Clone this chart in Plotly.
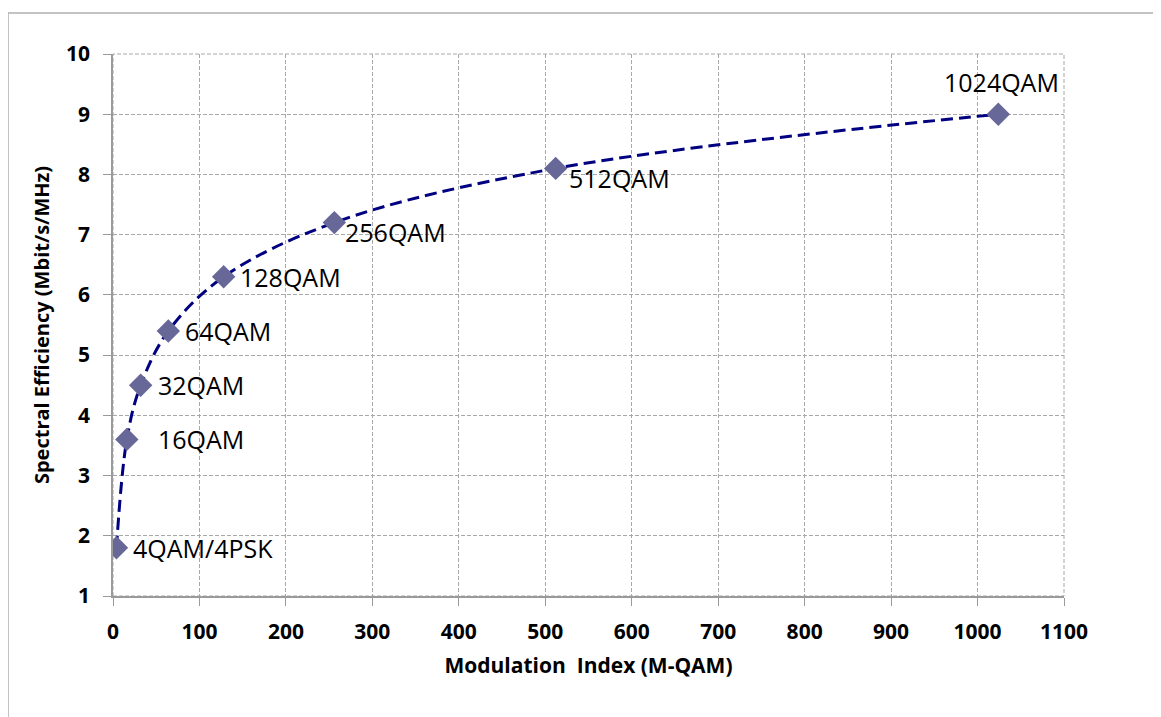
import plotly.graph_objects as go

mod_index = [4, 16, 32, 64, 128, 256, 512, 1024]
spectral_eff = [1.8, 3.6, 4.5, 5.4, 6.3, 7.2, 8.1, 9.0]
labels = ["4QAM/4PSK", "16QAM", "32QAM", "64QAM", "128QAM", "256QAM", "512QAM", "1024QAM"]

# label placement style (pixel offsets)
label_xanchor = ["left", "left", "left", "left", "left", "left", "left", "center"]
label_xshift = [15, 29, 15, 15, 14, 9, 11, 3]
label_yshift = [0, 0, 0, 0, 0, -9, -10, 32]

x_ticks = list(range(0, 1101, 100))
y_ticks = list(range(1, 11))

FONT = "Open Sans, Liberation Sans, sans-serif"

fig = go.Figure()
fig.add_trace(go.Scatter(
    x=mod_index, y=spectral_eff, mode="lines",
    line=dict(color="#000080", width=3, dash="12px,6px", shape="spline", smoothing=1.0),
    hoverinfo="skip", showlegend=False))
fig.add_trace(go.Scatter(
    x=mod_index, y=spectral_eff, mode="markers",
    marker=dict(symbol="diamond", size=18, color="#676798"),
    showlegend=False))

for xv, yv, t, xa, xs, ys in zip(mod_index, spectral_eff, labels, label_xanchor, label_xshift, label_yshift):
    fig.add_annotation(x=xv, y=yv, text=t, showarrow=False, xanchor=xa, yanchor="middle",
                       xshift=xs, yshift=ys,
                       font=dict(family=FONT, size=25, color="#000000"))

axis_common = dict(
    showline=True, linecolor="#9a9a9a", linewidth=1.5,
    ticks="outside", tickcolor="#9a9a9a", ticklen=8,
    showgrid=True, gridcolor="#a8a8a8", griddash="4px,2px", gridwidth=1,
    zeroline=False, mirror=False, automargin=False,
    tickfont=dict(family=FONT, size=21, color="#000000", weight="bold"),
)

fig.update_xaxes(range=[0, 1100], tickvals=x_ticks, ticklabelstandoff=8, **axis_common,
                 title=dict(text="Modulation  Index (M-QAM)",
                            font=dict(family=FONT, size=21, color="#000000", weight="bold"),
                            standoff=14))
fig.update_yaxes(range=[1, 10], tickvals=y_ticks, ticklabelstandoff=9, **axis_common,
                 title=dict(text="Spectral Efficiency (Mbit/s/MHz)",
                            font=dict(family=FONT, size=20, color="#000000", weight="bold"),
                            standoff=11))

# outer chart border and dashed plot-area border
fig.add_shape(type="rect", xref="paper", yref="paper", x0=-0.1104, x1=1.2, y0=-0.3, y1=1.0756,
              line=dict(color="#b0b0b0", width=1.5), layer="below")
fig.add_shape(type="rect", xref="paper", yref="paper", x0=0, x1=1, y0=0, y1=1,
              line=dict(color="#a8a8a8", width=1, dash="4px,2px"), layer="below")

fig.update_layout(
    width=1153, height=709,
    margin=dict(l=105, r=97, t=46, b=121),
    plot_bgcolor="white", paper_bgcolor="white",
)

fig.write_html("out.html")
